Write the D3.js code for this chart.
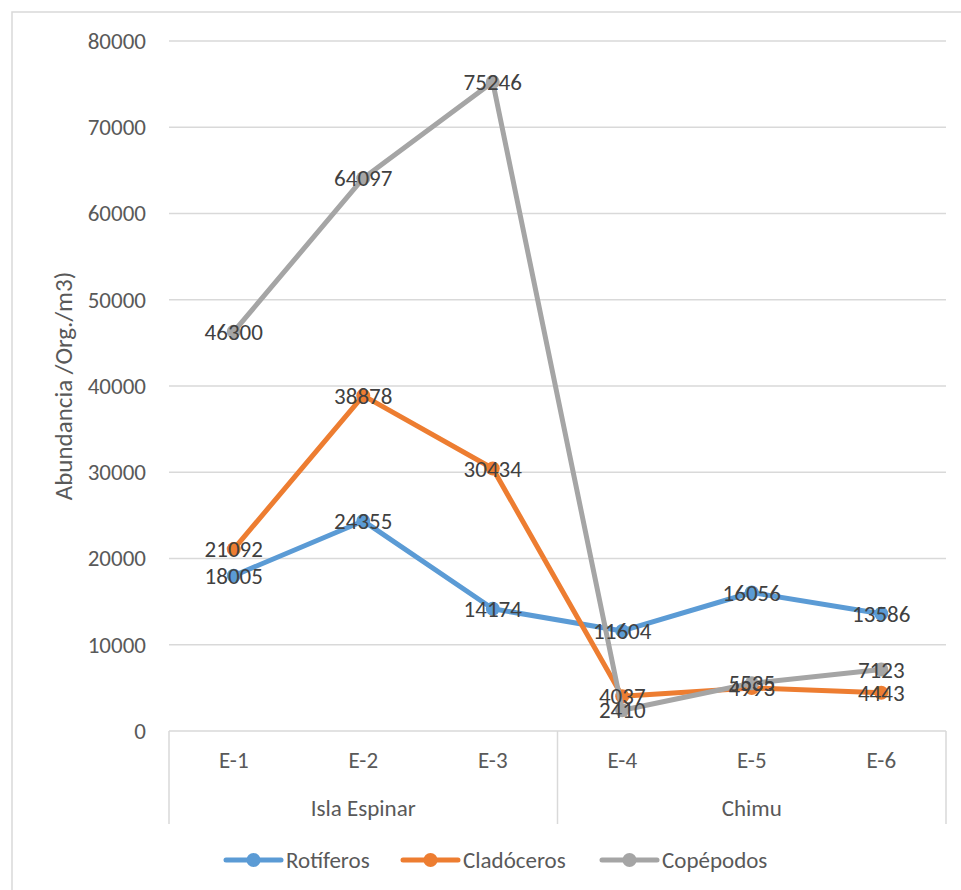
<!DOCTYPE html>
<html><head><meta charset="utf-8">
<script src="https://cdn.jsdelivr.net/npm/d3@7"></script>
<style>body{margin:0;background:#fff}svg{display:block}</style>
</head><body>
<script>
const categories = ["E-1","E-2","E-3","E-4","E-5","E-6"];
const groups = [{name:"Isla Espinar", from:0, to:3},{name:"Chimu", from:3, to:6}];
const seriesNames = ["Rotíferos","Cladóceros","Copépodos"];
const rotiferos = [18005,24355,14174,11604,16056,13586];
const cladoceros = [21092,38878,30434,4037,4993,4443];
const copepodos = [46300,64097,75246,2410,5535,7123];
const yTicks = [0,10000,20000,30000,40000,50000,60000,70000,80000];
const colors = ["#5B9BD5","#ED7D31","#A5A5A5"];
const yTitle = "Abundancia /Org./m3)";

(function(){
const W=961,H=890;
const FONT = "Carlito, Calibri, Lato, sans-serif";
const FS = 23;
const svg=d3.select("body").append("svg").attr("width",W).attr("height",H);
svg.append("rect").attr("x",12).attr("y",12).attr("width",W+10).attr("height",H+10)
  .attr("fill","#fff").attr("stroke","#d9d9d9").attr("stroke-width",1.5);

const pL=169,pR=946,pT=41,pB=731;
const x=d3.scaleBand().domain(d3.range(6)).range([pL,pR]);
const y=d3.scaleLinear().domain([0,80000]).range([pB,pT]);

svg.append("g").selectAll("line").data(yTicks.filter(d=>d>0)).join("line")
  .attr("x1",pL).attr("x2",pR).attr("y1",d=>y(d)).attr("y2",d=>y(d))
  .attr("stroke","#d9d9d9").attr("stroke-width",1.5);

const yAxis=d3.axisLeft(y).tickValues(yTicks).tickSize(0).tickPadding(23).tickFormat(d3.format("d"));
const ga=svg.append("g").attr("transform",`translate(${pL},0)`).call(yAxis);
ga.select(".domain").remove();
ga.selectAll("text").attr("font-family",FONT).attr("font-size",FS).attr("fill","#595959");

svg.append("text").attr("transform",`translate(72,${(pT+pB)/2}) rotate(-90)`)
  .attr("text-anchor","middle").attr("font-family",FONT).attr("font-size",25).attr("fill","#595959").text(yTitle);

svg.append("line").attr("x1",pL).attr("x2",pR).attr("y1",pB).attr("y2",pB)
  .attr("stroke","#d9d9d9").attr("stroke-width",1.5);
const seps=[0,3,6].map(i=> i<6 ? x(i) : x(5)+x.bandwidth());
svg.append("g").selectAll("line").data(seps).join("line")
  .attr("x1",d=>d).attr("x2",d=>d).attr("y1",pB).attr("y2",824)
  .attr("stroke","#d9d9d9").attr("stroke-width",1.5);

const xAxis=d3.axisBottom(x).tickSize(0).tickPadding(21).tickFormat(i=>categories[i]);
const gx=svg.append("g").attr("transform",`translate(0,${pB})`).call(xAxis);
gx.select(".domain").remove();
gx.selectAll("text").attr("font-family",FONT).attr("font-size",FS).attr("fill","#595959");

svg.append("g").selectAll("text").data(groups).join("text")
  .attr("x",g=>(x(g.from)+x(g.to-1)+x.bandwidth())/2).attr("y",808).attr("dy","0.35em")
  .attr("text-anchor","middle").attr("font-family",FONT).attr("font-size",FS).attr("fill","#595959")
  .text(g=>g.name);

const allSeries=[rotiferos,cladoceros,copepodos];
const line=d3.line().x((d,i)=>x(i)+x.bandwidth()/2).y(d=>y(d));
allSeries.forEach((s,k)=>{
  svg.append("path").datum(s).attr("d",line).attr("fill","none")
    .attr("stroke",colors[k]).attr("stroke-width",5).attr("stroke-linejoin","round");
  svg.append("g").selectAll("circle").data(s).join("circle")
    .attr("cx",(d,i)=>x(i)+x.bandwidth()/2).attr("cy",d=>y(d)).attr("r",7).attr("fill",colors[k]);
});
allSeries.forEach((s,k)=>{
  svg.append("g").selectAll("text").data(s).join("text")
    .attr("x",(d,i)=>x(i)+x.bandwidth()/2).attr("y",d=>y(d)).attr("dy","0.35em")
    .attr("text-anchor","middle").attr("font-family",FONT).attr("font-size",FS).attr("fill","#404040")
    .text(d=>d);
});

const legX=[226,403,602];
seriesNames.forEach((n,k)=>{
  const g=svg.append("g").attr("transform",`translate(${legX[k]},860)`);
  g.append("line").attr("x1",0).attr("x2",55).attr("stroke",colors[k]).attr("stroke-width",5).attr("stroke-linecap","round");
  g.append("circle").attr("cx",27.5).attr("r",7).attr("fill",colors[k]);
  g.append("text").attr("x",60).attr("dy","0.35em").attr("font-family",FONT).attr("font-size",FS).attr("fill","#595959").text(n);
});
})();
</script>
</body></html>
